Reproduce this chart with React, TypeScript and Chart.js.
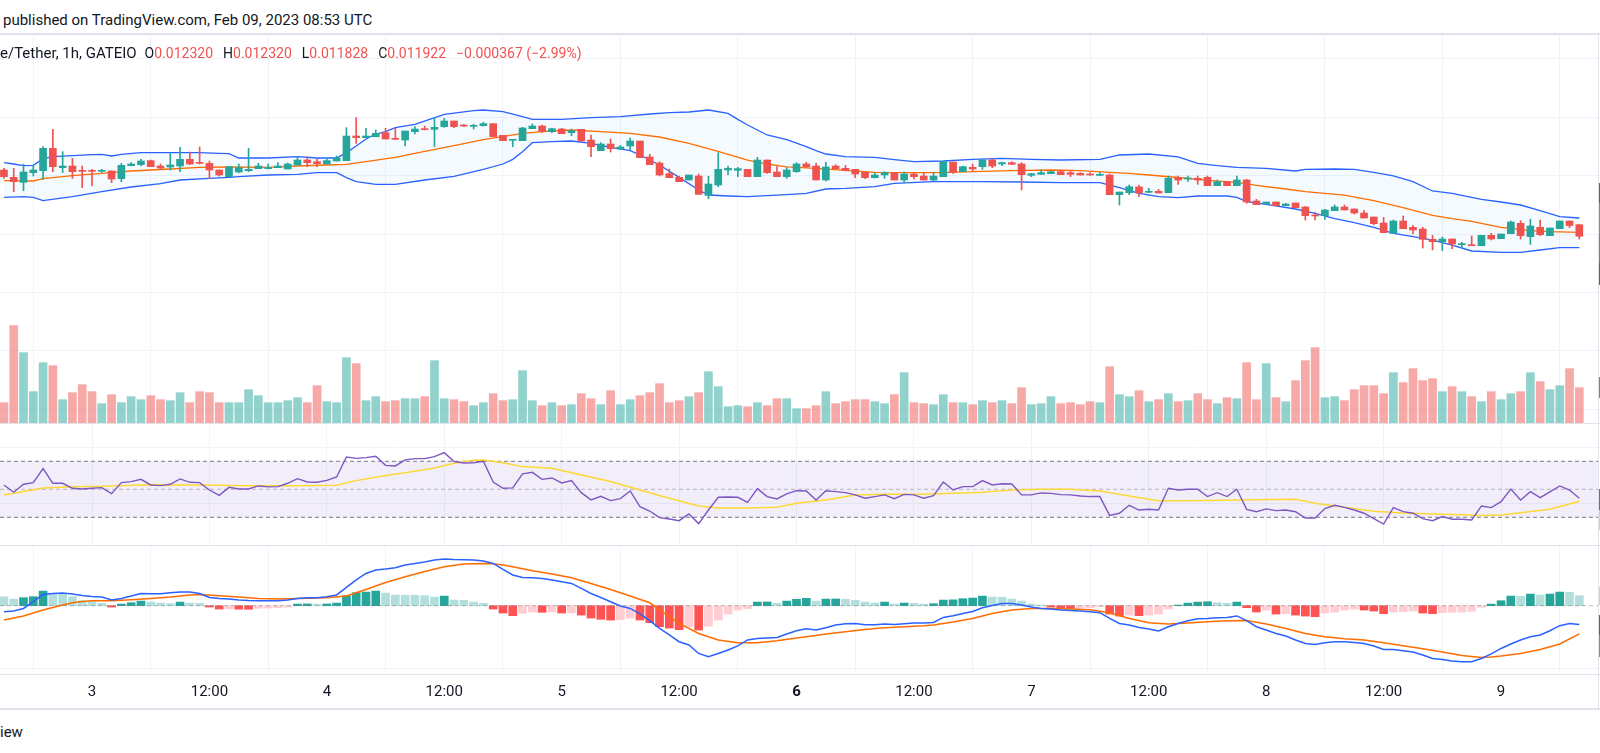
import React, { useEffect, useRef } from "react";
import { Chart, registerables } from "chart.js";

Chart.register(...registerables);

// ---------- data (1h candles, Feb 2 15:00 -> Feb 9 08:00) ----------
const opens = [
  0.014192, 0.013941, 0.013769, 0.014101, 0.014169, 0.014934, 0.014272, 0.014329, 0.014169, 0.014169,
  0.014146, 0.014158, 0.013895, 0.01434, 0.014375, 0.014512, 0.014329, 0.014295, 0.014329, 0.014557,
  0.014443, 0.01442, 0.014192, 0.013964, 0.014123, 0.014169, 0.014238, 0.014238, 0.014272, 0.014226,
  0.014363, 0.014534, 0.014477, 0.014397, 0.0145, 0.014512, 0.015356, 0.015299, 0.015334, 0.015471,
  0.015276, 0.015219, 0.015505, 0.015596, 0.015585, 0.015676, 0.01587, 0.015722, 0.015688, 0.01571,
  0.015779, 0.015379, 0.015208, 0.015197, 0.015608, 0.015699, 0.015505, 0.015596, 0.015471, 0.015585,
  0.015219, 0.014854, 0.015082, 0.014911, 0.015014, 0.015185, 0.014637, 0.014432, 0.014066, 0.013941,
  0.013849, 0.013986, 0.013324, 0.013678, 0.014192, 0.01418, 0.014215, 0.013964, 0.014534, 0.014123,
  0.013964, 0.014135, 0.014398, 0.014329, 0.013849, 0.014329, 0.014249, 0.014215, 0.014112, 0.013929,
  0.014021, 0.014101, 0.013849, 0.014055, 0.013986, 0.013849, 0.013964, 0.014466, 0.014135, 0.014283,
  0.014306, 0.014534, 0.014398, 0.014443, 0.014398, 0.014009, 0.014044, 0.014066, 0.014135, 0.014101,
  0.014078, 0.014044, 0.014009, 0.014021, 0.013347, 0.013416, 0.01361, 0.013427, 0.013461, 0.013416,
  0.013929, 0.013884, 0.013907, 0.013941, 0.013655, 0.013792, 0.013655, 0.01385, 0.01313, 0.013039,
  0.013096, 0.01297, 0.013062, 0.012925, 0.012639, 0.012628, 0.012799, 0.012925, 0.012856, 0.012719,
  0.012582, 0.012377, 0.012023, 0.012445, 0.012228, 0.012171, 0.011817, 0.011737, 0.011829, 0.011635,
  0.011623, 0.0116, 0.011954, 0.01184, 0.012011, 0.012365, 0.011909, 0.012228, 0.011943, 0.012183,
  0.012445, 0.01232,
];
const highs = [
  0.014249, 0.014249, 0.014397, 0.014363, 0.014991, 0.015585, 0.01482, 0.014592, 0.014329, 0.014215,
  0.014215, 0.014158, 0.01442, 0.014443, 0.014557, 0.014534, 0.014397, 0.014763, 0.014968, 0.014808,
  0.01498, 0.0145, 0.014192, 0.014306, 0.014397, 0.014934, 0.01442, 0.014397, 0.014443, 0.014432,
  0.014649, 0.014649, 0.014569, 0.014592, 0.014671, 0.015642, 0.015984, 0.015619, 0.015562, 0.015619,
  0.015619, 0.015528, 0.015676, 0.015699, 0.015984, 0.015962, 0.01587, 0.015745, 0.015756, 0.015825,
  0.015779, 0.015379, 0.015231, 0.015653, 0.015768, 0.015733, 0.015631, 0.015619, 0.015596, 0.015585,
  0.015391, 0.015128, 0.015254, 0.015037, 0.015288, 0.015185, 0.014729, 0.014477, 0.014226, 0.013986,
  0.014021, 0.014055, 0.013975, 0.014786, 0.014329, 0.014283, 0.014215, 0.014626, 0.014534, 0.014306,
  0.014272, 0.014443, 0.014455, 0.01442, 0.014455, 0.014375, 0.014352, 0.014215, 0.014112, 0.014078,
  0.014135, 0.014101, 0.014124, 0.014112, 0.014101, 0.014112, 0.014477, 0.014466, 0.014329, 0.014398,
  0.014557, 0.014557, 0.014466, 0.014477, 0.014443, 0.014078, 0.014192, 0.014146, 0.014169, 0.014169,
  0.014101, 0.014101, 0.014101, 0.014055, 0.013438, 0.013678, 0.013678, 0.013564, 0.01353, 0.013986,
  0.013987, 0.013987, 0.013987, 0.013987, 0.01385, 0.013792, 0.013987, 0.013872, 0.013187, 0.013096,
  0.013096, 0.01305, 0.013062, 0.012947, 0.012742, 0.012845, 0.012993, 0.012993, 0.012856, 0.012811,
  0.012582, 0.012571, 0.012479, 0.012616, 0.012297, 0.012228, 0.011954, 0.011897, 0.011829, 0.011715,
  0.011931, 0.011954, 0.012023, 0.012, 0.012445, 0.012457, 0.012502, 0.012479, 0.012205, 0.012445,
  0.012445, 0.01232,
];
const lows = [
  0.013906, 0.01345, 0.013484, 0.013986, 0.013872, 0.014135, 0.014101, 0.013906, 0.013587, 0.013655,
  0.014112, 0.013758, 0.013792, 0.014329, 0.014329, 0.014306, 0.014215, 0.014192, 0.014135, 0.014375,
  0.014397, 0.013895, 0.013986, 0.013964, 0.014101, 0.014135, 0.014238, 0.014226, 0.014272, 0.014226,
  0.014363, 0.014306, 0.014306, 0.014397, 0.0145, 0.014512, 0.015105, 0.015299, 0.015334, 0.015254,
  0.015242, 0.015014, 0.015425, 0.015562, 0.014991, 0.015653, 0.015642, 0.015676, 0.015596, 0.015699,
  0.015334, 0.015197, 0.014991, 0.015197, 0.015608, 0.015482, 0.015471, 0.015436, 0.015368, 0.015162,
  0.014649, 0.014854, 0.014808, 0.0149, 0.014877, 0.014614, 0.014375, 0.013986, 0.013929, 0.013792,
  0.013849, 0.013359, 0.01321, 0.013621, 0.014032, 0.013964, 0.013964, 0.013964, 0.014078, 0.013964,
  0.013906, 0.014112, 0.014283, 0.013849, 0.013815, 0.014238, 0.014158, 0.013929, 0.013895, 0.013918,
  0.013907, 0.013849, 0.01377, 0.013884, 0.013849, 0.013827, 0.013964, 0.014078, 0.014135, 0.014169,
  0.014215, 0.014272, 0.01434, 0.014386, 0.013507, 0.013964, 0.014044, 0.014066, 0.014032, 0.013964,
  0.014021, 0.014009, 0.014009, 0.013347, 0.012993, 0.013347, 0.013279, 0.013416, 0.013404, 0.013416,
  0.013701, 0.013804, 0.013701, 0.013655, 0.013655, 0.013655, 0.013655, 0.01305, 0.013005, 0.013016,
  0.01297, 0.01297, 0.012902, 0.012479, 0.012479, 0.012502, 0.012799, 0.012822, 0.012685, 0.012548,
  0.01232, 0.012046, 0.012023, 0.012183, 0.012, 0.01152, 0.011452, 0.011429, 0.011498, 0.011532,
  0.0116, 0.0116, 0.011794, 0.01184, 0.012011, 0.011829, 0.011646, 0.011943, 0.011943, 0.012183,
  0.012217, 0.011828,
];
const closes = [
  0.013964, 0.013792, 0.014123, 0.014192, 0.014934, 0.014306, 0.014329, 0.014135, 0.014146, 0.014146,
  0.014169, 0.013884, 0.014352, 0.014397, 0.0145, 0.014306, 0.01426, 0.014363, 0.014557, 0.014397,
  0.01442, 0.014192, 0.014021, 0.014306, 0.014272, 0.014215, 0.014329, 0.014283, 0.014329, 0.014397,
  0.014534, 0.014443, 0.014409, 0.014512, 0.014603, 0.015356, 0.015299, 0.015356, 0.015448, 0.015254,
  0.015242, 0.015528, 0.015596, 0.015573, 0.015653, 0.01587, 0.015676, 0.015699, 0.01571, 0.015779,
  0.015334, 0.015197, 0.015231, 0.015631, 0.015699, 0.015505, 0.015608, 0.015436, 0.015539, 0.015185,
  0.014991, 0.015082, 0.014923, 0.01498, 0.015185, 0.014614, 0.014375, 0.014021, 0.013929, 0.013792,
  0.014021, 0.013359, 0.013712, 0.014215, 0.014249, 0.014238, 0.013964, 0.014534, 0.014101, 0.013964,
  0.014192, 0.014398, 0.014306, 0.013849, 0.014295, 0.014238, 0.014169, 0.014055, 0.013929, 0.014021,
  0.014101, 0.013849, 0.014055, 0.013964, 0.013849, 0.013986, 0.014477, 0.014112, 0.014306, 0.014226,
  0.014534, 0.014329, 0.014443, 0.014386, 0.014032, 0.014066, 0.014101, 0.014135, 0.014032, 0.014044,
  0.014021, 0.014021, 0.014032, 0.013347, 0.013438, 0.013621, 0.013404, 0.01345, 0.013404, 0.013907,
  0.01385, 0.013907, 0.01385, 0.013655, 0.013792, 0.013655, 0.01385, 0.013096, 0.013005, 0.013096,
  0.01297, 0.013027, 0.012902, 0.012628, 0.012616, 0.012822, 0.012925, 0.012822, 0.012719, 0.012548,
  0.012354, 0.012046, 0.012445, 0.012183, 0.012137, 0.011817, 0.011737, 0.011829, 0.011657, 0.011657,
  0.0116, 0.011954, 0.011829, 0.012, 0.012411, 0.011943, 0.012274, 0.011977, 0.012205, 0.012445,
  0.012289, 0.011922,
];
// volume (thousands)
const volumes = [
  61, 292, 211, 94, 181, 172, 70, 91, 115, 94, 58, 85, 61, 79, 70, 82, 70, 67, 91, 61,
  94, 91, 61, 61, 61, 100, 82, 61, 61, 67, 76, 61, 112, 64, 61, 196, 178, 67, 79, 64,
  67, 73, 73, 79, 187, 73, 70, 64, 52, 61, 88, 67, 70, 157, 67, 52, 61, 52, 55, 88,
  73, 55, 97, 55, 70, 82, 91, 118, 61, 67, 79, 91, 154, 109, 49, 52, 49, 61, 52, 73,
  73, 43, 43, 52, 94, 58, 64, 70, 70, 64, 58, 85, 151, 61, 58, 55, 85, 61, 61, 55,
  67, 61, 67, 58, 106, 55, 58, 79, 58, 61, 55, 64, 61, 169, 85, 79, 97, 64, 70, 88,
  64, 67, 88, 70, 58, 76, 73, 181, 70, 178, 76, 64, 127, 187, 226, 76, 79, 67, 100, 112,
  112, 88, 151, 121, 163, 127, 133, 94, 109, 94, 79, 64, 94, 70, 88, 94, 151, 124, 100, 112,
  163, 106,
];
// Bollinger Bands (20, 2) read at [candle index, value]
const bbUpper: [number, number][] = [
  [0, 0.014443], [1, 0.014397], [2, 0.01434], [3, 0.014352], [4, 0.01458], [5, 0.014649], [7, 0.014683],
  [9, 0.014717], [10, 0.014729], [11, 0.014671], [12, 0.014729], [14, 0.014786], [17, 0.014786],
  [20, 0.014786], [22, 0.014763], [23, 0.014751], [24, 0.014603], [27, 0.014603], [30, 0.014649],
  [32, 0.014603], [34, 0.014603], [35, 0.014786], [36, 0.015014], [37, 0.015254], [38, 0.015425],
  [39, 0.015505], [40, 0.015642], [42, 0.015756], [45, 0.016099], [48, 0.016224], [49, 0.016247],
  [51, 0.01619], [53, 0.016019], [54, 0.015927], [57, 0.015927], [60, 0.015984], [63, 0.016019],
  [66, 0.01611], [68, 0.016156], [70, 0.016179], [72, 0.016247], [74, 0.016133], [75, 0.015927],
  [76, 0.015733], [78, 0.015391], [80, 0.015235], [82, 0.014991], [83, 0.014854], [84, 0.01474],
  [86, 0.014649], [89, 0.014626], [91, 0.014546], [93, 0.014477], [96, 0.0145], [99, 0.014557],
  [102, 0.014592], [105, 0.014557], [108, 0.014535], [112, 0.014557], [114, 0.014706], [117, 0.01474],
  [120, 0.01464], [122, 0.01442], [124, 0.01434], [126, 0.014283], [129, 0.014249], [132, 0.014158],
  [133, 0.014215], [136, 0.014226], [138, 0.014215], [140, 0.014112], [142, 0.013987], [144, 0.013792],
  [146, 0.013473], [148, 0.013393], [151, 0.013187], [153, 0.013096], [155, 0.012993], [157, 0.012799],
  [159, 0.012594], [161, 0.012548],
];
const bbBasis: [number, number][] = [
  [0, 0.013827], [3, 0.013815], [4, 0.013895], [7, 0.013998], [10, 0.014078], [13, 0.014158],
  [17, 0.014226], [20, 0.014283], [23, 0.014295], [27, 0.014283], [30, 0.014329], [33, 0.014363],
  [35, 0.014386], [37, 0.014477], [40, 0.014626], [43, 0.014831], [46, 0.015025], [49, 0.015231],
  [53, 0.015448], [55, 0.015505], [58, 0.015562], [61, 0.015505], [64, 0.015448], [67, 0.015322],
  [70, 0.015105], [73, 0.014831], [76, 0.014534], [78, 0.014397], [80, 0.0143], [83, 0.014249],
  [86, 0.014181], [89, 0.014112], [93, 0.014101], [96, 0.014101], [99, 0.014135], [103, 0.014169],
  [107, 0.014192], [110, 0.014169], [113, 0.014112], [115, 0.014078], [117, 0.014021], [120, 0.013935],
  [123, 0.013838], [126, 0.01377], [128, 0.013667], [131, 0.013541], [133, 0.01345], [137, 0.013335],
  [140, 0.013142], [143, 0.012902], [146, 0.012639], [148, 0.012525], [150, 0.012434], [153, 0.012228],
  [156, 0.012114], [158, 0.01208], [161, 0.012057],
];
const bbLower: [number, number][] = [
  [0, 0.013256], [2, 0.013279], [3, 0.013256], [4, 0.013142], [7, 0.013279], [10, 0.01345],
  [13, 0.01361], [16, 0.013724], [18, 0.013849], [21, 0.013906], [23, 0.013941], [24, 0.013964],
  [27, 0.014021], [30, 0.014044], [32, 0.014101], [34, 0.014101], [35, 0.013929], [36, 0.013792],
  [38, 0.013701], [40, 0.013701], [43, 0.013849], [46, 0.013975], [49, 0.014215], [51, 0.014397],
  [52, 0.014557], [53, 0.01482], [54, 0.015128], [56, 0.015162], [58, 0.015185], [60, 0.015105],
  [62, 0.014968], [64, 0.014854], [65, 0.014706], [67, 0.014363], [69, 0.013941], [71, 0.013507],
  [72, 0.013336], [74, 0.013301], [76, 0.013279], [78, 0.013313], [80, 0.01335], [82, 0.013393],
  [84, 0.013541], [86, 0.013564], [89, 0.013621], [91, 0.013735], [95, 0.013792], [100, 0.013792],
  [104, 0.013781], [108, 0.013758], [112, 0.013758], [114, 0.013587], [116, 0.013393], [118, 0.013279],
  [120, 0.013245], [122, 0.013301], [125, 0.013301], [126, 0.013256], [127, 0.013107], [129, 0.013016],
  [132, 0.012856], [134, 0.012708], [136, 0.012525], [138, 0.012388], [140, 0.012228], [142, 0.012023],
  [144, 0.011909], [146, 0.011794], [148, 0.011623], [150, 0.011418], [153, 0.011372], [155, 0.011372],
  [157, 0.011452], [159, 0.011532], [161, 0.011532],
];
// RSI (14)
const rsiValues = [
  53.1, 47.9, 53.6, 54.8, 64.8, 54.3, 54.3, 50.7, 50.2, 50.7, 51.2, 46.9, 54.8, 55.5, 57.1, 53.1,
  52.6, 53.6, 57.4, 55.0, 54.8, 49.5, 45.7, 51.4, 50.2, 50.2, 52.4, 51.7, 51.9, 54.3, 57.6, 55.2,
  55.0, 56.4, 58.8, 73.1, 72.1, 72.6, 73.6, 67.1, 66.7, 71.0, 71.9, 71.9, 73.3, 76.2, 69.8, 68.8,
  69.0, 70.0, 55.2, 50.7, 51.0, 61.0, 62.1, 57.1, 58.1, 54.5, 56.2, 47.6, 42.4, 45.0, 41.9, 43.3,
  48.8, 37.6, 34.5, 29.8, 28.8, 27.6, 32.4, 25.5, 35.2, 44.3, 44.5, 44.3, 40.7, 50.5, 44.8, 43.1,
  46.7, 49.0, 48.8, 42.4, 49.0, 48.3, 47.6, 46.0, 43.6, 44.8, 46.0, 43.3, 46.4, 46.0, 43.6, 45.5,
  55.2, 49.5, 51.9, 51.9, 56.2, 53.1, 54.0, 53.8, 46.0, 46.0, 47.4, 47.1, 46.2, 46.0, 45.2, 44.8,
  44.8, 31.4, 32.9, 38.6, 35.2, 35.7, 35.2, 50.7, 49.5, 50.0, 50.0, 44.8, 47.6, 44.8, 50.0, 35.7,
  34.0, 36.0, 34.8, 35.2, 34.0, 29.5, 29.5, 36.2, 38.6, 37.1, 35.2, 32.9, 29.0, 25.2, 36.9, 34.0,
  32.9, 29.0, 27.6, 30.5, 28.6, 28.6, 28.1, 38.1, 36.9, 41.2, 50.2, 42.4, 48.3, 44.0, 48.1, 52.4,
  49.5, 43.6,
];
const rsiMa: [number, number][] = [
  [0, 46.0], [4, 51.0], [7, 51.9], [10, 52.1], [15, 53.3], [20, 53.1], [25, 52.6], [30, 52.6],
  [34, 52.9], [36, 56.2], [39, 59.8], [41, 61.9], [44, 65.2], [46, 68.6], [48, 70.7], [49, 71.0],
  [51, 69.0], [53, 66.2], [56, 65.0], [59, 60.2], [62, 55.5], [65, 49.5], [68, 43.6], [71, 38.1],
  [73, 36.7], [76, 36.7], [79, 37.1], [81, 40.0], [84, 42.4], [87, 46.0], [90, 46.4], [94, 46.4],
  [97, 47.1], [100, 47.9], [103, 49.5], [106, 50.0], [109, 50.0], [112, 48.8], [115, 45.2],
  [118, 41.9], [121, 41.9], [126, 42.4], [132, 42.9], [134, 40.0], [137, 37.1], [140, 34.3],
  [143, 33.1], [146, 32.4], [149, 31.9], [151, 31.2], [153, 31.7], [155, 33.3], [158, 35.7],
  [161, 41.4],
];
const rsiUpperBand = 70;
const rsiMiddleBand = 50;
const rsiLowerBand = 30;
// MACD (12, 26, 9)
const macdValues = [
  -0.000048, -0.000042, -0.000022, 0.000032, 0.00009, 0.000098, 0.000102, 0.000094, 0.000082, 0.000074,
  0.00007, 0.000046, 0.000058, 0.000078, 0.000098, 0.000096, 0.000096, 0.000104, 0.00011, 0.00011,
  0.000098, 0.000066, 0.000058, 0.000054, 0.000046, 0.000042, 0.00004, 0.00004, 0.00004, 0.000046,
  0.000058, 0.000064, 0.000064, 0.000072, 0.000086, 0.000146, 0.000206, 0.000258, 0.000286, 0.000294,
  0.000304, 0.000326, 0.000338, 0.00035, 0.000366, 0.000374, 0.00037, 0.000368, 0.000366, 0.000358,
  0.000338, 0.00029, 0.000246, 0.000226, 0.000224, 0.000218, 0.000206, 0.000192, 0.000178, 0.000138,
  0.000098, 0.000066, 0.000032, -0.000002, -0.000022, -0.000066, -0.00012, -0.000182, -0.000234, -0.000288,
  -0.000314, -0.000382, -0.000408, -0.000382, -0.000354, -0.000322, -0.000274, -0.000262, -0.000258, -0.000254,
  -0.000226, -0.0002, -0.000184, -0.000194, -0.000176, -0.000154, -0.000144, -0.000142, -0.000152, -0.000152,
  -0.000146, -0.00015, -0.000144, -0.000138, -0.000138, -0.000134, -0.000094, -0.00008, -0.000062, -0.000046,
  -0.000016, 0.000002, 0.000018, 0.000018, 0.000006, -0.00001, -0.000022, -0.000026, -0.000034, -0.000038,
  -0.000042, -0.000048, -0.000056, -0.000102, -0.000142, -0.000154, -0.000174, -0.000186, -0.000202, -0.000168,
  -0.000142, -0.00012, -0.000104, -0.000102, -0.000096, -0.000094, -0.000082, -0.00012, -0.000168, -0.000194,
  -0.000222, -0.000242, -0.000274, -0.000302, -0.00031, -0.000296, -0.000288, -0.000288, -0.000294, -0.000302,
  -0.000322, -0.00035, -0.00035, -0.00036, -0.00037, -0.000394, -0.000422, -0.00043, -0.000442, -0.000448,
  -0.000448, -0.000422, -0.000386, -0.000342, -0.000306, -0.000274, -0.000248, -0.000234, -0.0002, -0.00016,
  -0.000142, -0.00015,
];
const signalPoints: [number, number][] = [
  [0, -0.000114], [2, -0.000082], [4, -0.000034], [5, -0.000014], [6, 0.000006], [7, 0.000024],
  [8, 0.000034], [9, 0.00004], [11, 0.00004], [13, 0.000048], [15, 0.000058], [17, 0.00007],
  [19, 0.000086], [20, 0.00009], [22, 0.00008], [24, 0.00007], [26, 0.000058], [28, 0.000054],
  [30, 0.000058], [33, 0.000064], [35, 0.000078], [37, 0.00013], [39, 0.000186], [41, 0.000232],
  [43, 0.000274], [45, 0.000312], [47, 0.000334], [49, 0.000338], [50, 0.000336], [51, 0.000326],
  [52, 0.000312], [54, 0.00028], [56, 0.000254], [58, 0.000224], [60, 0.000178], [62, 0.00013],
  [64, 0.000078], [66, 0.000024], [67, -0.000034], [69, -0.000142], [71, -0.000222], [73, -0.000274],
  [75, -0.000296], [77, -0.000296], [79, -0.00028], [81, -0.000258], [82, -0.000248], [84, -0.000226],
  [86, -0.000208], [88, -0.00019], [90, -0.000176], [92, -0.000168], [94, -0.00016], [95, -0.000154],
  [97, -0.00013], [99, -0.000102], [101, -0.000062], [103, -0.000034], [105, -0.000022], [107, -0.000022],
  [109, -0.000026], [111, -0.000032], [113, -0.000056], [115, -0.000102], [117, -0.000136], [119, -0.000146],
  [121, -0.000138], [123, -0.000128], [125, -0.00012], [127, -0.000118], [129, -0.000146], [131, -0.000182],
  [133, -0.000222], [135, -0.000248], [137, -0.000264], [139, -0.000274], [141, -0.000296], [143, -0.00032],
  [145, -0.000344], [147, -0.00037], [149, -0.000398], [151, -0.000414], [152, -0.00041], [153, -0.000402],
  [155, -0.000382], [157, -0.00035], [159, -0.000306], [161, -0.000226],
];
const histValues = [
  0.000072, 0.000053, 0.000064, 0.000072, 0.000117, 0.000099, 0.000093, 0.000072, 0.00004, 0.000032,
  0.000019, -0.000011, 0.000013, 0.000024, 0.000037, 0.000029, 0.000021, 0.000016, 0.000029, 0.000021,
  0.000019, -0.000011, -0.000027, -0.000026, -0.000028, -0.000029, -0.000021, -0.000019, -0.000016, -0.000011,
  0.000013, 0.000014, 0.000013, 0.000014, 0.000021, 0.00008, 0.000104, 0.000109, 0.000117, 0.000101,
  0.000085, 0.000084, 0.000083, 0.00008, 0.000069, 0.000077, 0.000045, 0.000043, 0.000029, 0.000019,
  -0.000027, -0.000059, -0.00008, -0.000061, -0.000051, -0.000053, -0.00005, -0.000059, -0.000057, -0.000075,
  -0.000099, -0.000109, -0.000115, -0.000113, -0.000099, -0.000115, -0.000136, -0.000168, -0.000179, -0.000192,
  -0.000168, -0.000195, -0.000165, -0.000115, -0.000067, -0.000035, -0.000024, 0.000029, 0.00003, 0.000019,
  0.000037, 0.000051, 0.000059, 0.000037, 0.000053, 0.000054, 0.000051, 0.000043, 0.000029, 0.000021,
  0.000029, 0.000013, 0.000021, 0.000019, 0.000013, 0.000016, 0.000045, 0.000047, 0.000056, 0.000061,
  0.000077, 0.000069, 0.000067, 0.000053, 0.000037, 0.000013, 0.000005, -0.000011, -0.000019, -0.000021,
  -0.000019, -0.000016, -0.000008, -0.000067, -0.000083, -0.000075, -0.00008, -0.000075, -0.000067, -0.000027,
  0.000005, 0.000021, 0.000029, 0.000032, 0.000024, 0.000019, 0.000029, -0.000016, -0.000051, -0.000035,
  -0.000067, -0.000064, -0.000075, -0.000083, -0.000088, -0.000059, -0.000051, -0.000035, -0.000027, -0.000035,
  -0.000043, -0.000064, -0.000051, -0.000048, -0.000043, -0.000059, -0.000064, -0.000056, -0.000053, -0.000051,
  -0.000045, -0.000013, 0.000013, 0.00004, 0.000077, 0.000075, 0.000093, 0.000085, 0.000093, 0.000109,
  0.000107, 0.00008,
];
// time axis
const timeTickIndex = [9, 21, 33, 45, 57, 69, 81, 93, 105, 117, 129, 141, 153];
const timeTickLabels = ["3", "12:00", "4", "12:00", "5", "12:00", "6", "12:00", "7", "12:00", "8", "12:00", "9"];
const boldTickLabel = "6";
const priceGridLevels = [0.006, 0.008, 0.01, 0.012, 0.014, 0.016, 0.018];
const rsiGridLevels = [40, 80];
const macdGridLevels = [-0.0005];
const symbolTitle = "e/Tether, 1h, GATEIO";
const publishedText = "published on TradingView.com, Feb 09, 2023 08:53 UTC";

// ---------- styling ----------
const FONT = "Roboto, 'Noto Sans', sans-serif";
const GRID = "#f0f3fa";
const SEP = "#e0e3eb";
const UP = "#26a69a";
const DOWN = "#ef5350";
const VOL_UP = "rgba(38,166,154,0.5)";
const VOL_DOWN = "rgba(239,83,80,0.5)";
const BLUE = "#2962ff";
const ORANGE = "#ff6d00";
const TEXT = "#131722";

const X_MIN = -0.4027;
const X_MAX = 162.91;

const PLOT_W = 1598;
const MAIN_TOP = 33, MAIN_H = 390;
const RSI_TOP = 424, RSI_H = 121;
const MACD_TOP = 546, MACD_H = 162;

function xAxis(withLabels: boolean): any {
  return {
    type: "linear",
    min: X_MIN,
    max: X_MAX,
    offset: false,
    afterBuildTicks: (s: any) => {
      s.ticks = timeTickIndex.map((v) => ({ value: v }));
    },
    afterFit: (s: any) => {
      s.height = withLabels ? 34 : 0;
    },
    grid: { color: GRID, lineWidth: 1, drawTicks: false },
    border: { display: false },
    ticks: withLabels
      ? {
          display: true,
          autoSkip: false,
          maxRotation: 0,
          padding: 9,
          color: TEXT,
          font: (ctx: any) => ({
            family: FONT,
            size: 15,
            weight: ctx.tick && ctx.tick.label === boldTickLabel ? "bold" : "normal",
          }),
          callback: (v: number) => {
            const k = timeTickIndex.indexOf(v);
            return k >= 0 ? timeTickLabels[k] : "";
          },
        }
      : { display: false },
  };
}

function yGridAxis(min: number, max: number, levels: number[]): any {
  return {
    type: "linear",
    position: "right",
    min,
    max,
    afterBuildTicks: (s: any) => {
      s.ticks = levels.map((v) => ({ value: v }));
    },
    afterFit: (s: any) => {
      s.width = 0;
    },
    grid: { color: GRID, lineWidth: 1, drawTicks: false },
    border: { display: false },
    ticks: { display: false },
  };
}

const baseOptions: any = {
  responsive: false,
  maintainAspectRatio: false,
  animation: false,
  events: [],
  layout: { padding: 0 },
  plugins: { legend: { display: false }, tooltip: { enabled: false } },
};

const pts = (arr: [number, number][]) => arr.map(([x, y]) => ({ x, y }));

export default function App() {
  const mainRef = useRef<HTMLCanvasElement>(null);
  const rsiRef = useRef<HTMLCanvasElement>(null);
  const macdRef = useRef<HTMLCanvasElement>(null);

  useEffect(() => {
    const idx = opens.map((_, i) => i);
    const up = idx.map((i) => closes[i] >= opens[i]);
    const candleColors = idx.map((i) => (up[i] ? UP : DOWN));

    const main = new Chart(mainRef.current as HTMLCanvasElement, {
      type: "bar",
      data: {
        datasets: [
          {
            type: "bar",
            label: "Volume",
            yAxisID: "yVol",
            data: volumes.map((v, i) => ({ x: i, y: v })),
            backgroundColor: idx.map((i) => (up[i] ? VOL_UP : VOL_DOWN)),
            barThickness: 8,
            grouped: false,
            order: 10,
          } as any,
          {
            type: "line",
            label: "BB Upper",
            yAxisID: "y",
            data: pts(bbUpper),
            borderColor: BLUE,
            borderWidth: 1.3,
            pointRadius: 0,
            fill: "+2",
            backgroundColor: "rgba(33,150,243,0.05)",
            order: 4,
          } as any,
          {
            type: "line",
            label: "BB Basis",
            yAxisID: "y",
            data: pts(bbBasis),
            borderColor: ORANGE,
            borderWidth: 1.3,
            pointRadius: 0,
            fill: false,
            order: 3,
          } as any,
          {
            type: "line",
            label: "BB Lower",
            yAxisID: "y",
            data: pts(bbLower),
            borderColor: BLUE,
            borderWidth: 1.3,
            pointRadius: 0,
            fill: false,
            order: 3,
          } as any,
          {
            type: "bar",
            label: "Wicks",
            yAxisID: "y",
            data: idx.map((i) => ({ x: i, y: [lows[i], highs[i]] })),
            backgroundColor: candleColors,
            barThickness: 1,
            grouped: false,
            order: 1,
          } as any,
          {
            type: "bar",
            label: "Bodies",
            yAxisID: "y",
            data: idx.map((i) => ({ x: i, y: [opens[i], closes[i]] })),
            backgroundColor: candleColors,
            barThickness: 7,
            minBarLength: 1,
            grouped: false,
            order: 0,
          } as any,
        ],
      },
      options: {
        ...baseOptions,
        scales: {
          x: xAxis(false),
          y: yGridAxis(0.005527, 0.018884, priceGridLevels),
          yVol: { type: "linear", display: false, min: 0, max: 1170 },
        },
      },
    });

    const rsi = new Chart(rsiRef.current as HTMLCanvasElement, {
      type: "line",
      data: {
        datasets: [
          {
            label: "Upper",
            data: [{ x: X_MIN, y: rsiUpperBand }, { x: X_MAX, y: rsiUpperBand }],
            borderColor: "#787b86",
            borderWidth: 1,
            borderDash: [4, 3],
            pointRadius: 0,
            fill: "+1",
            backgroundColor: "rgba(126,87,194,0.1)",
            order: 5,
          },
          {
            label: "Lower",
            data: [{ x: X_MIN, y: rsiLowerBand }, { x: X_MAX, y: rsiLowerBand }],
            borderColor: "#787b86",
            borderWidth: 1,
            borderDash: [4, 3],
            pointRadius: 0,
            fill: false,
            order: 5,
          },
          {
            label: "Middle",
            data: [{ x: X_MIN, y: rsiMiddleBand }, { x: X_MAX, y: rsiMiddleBand }],
            borderColor: "rgba(120,123,134,0.5)",
            borderWidth: 1,
            borderDash: [4, 3],
            pointRadius: 0,
            fill: false,
            order: 5,
          },
          {
            label: "RSI MA",
            data: pts(rsiMa),
            borderColor: "#fdd835",
            borderWidth: 1.5,
            pointRadius: 0,
            fill: false,
            order: 2,
          },
          {
            label: "RSI",
            data: rsiValues.map((v, i) => ({ x: i, y: v })),
            borderColor: "#7e57c2",
            borderWidth: 1.4,
            pointRadius: 0,
            fill: false,
            order: 1,
          },
        ] as any,
      },
      options: {
        ...baseOptions,
        scales: {
          x: xAxis(false),
          y: yGridAxis(10.21, 96.64, rsiGridLevels),
        },
      },
    });

    const histColors = histValues.map((h, i) => {
      const prev = i > 0 ? histValues[i - 1] : h + (h >= 0 ? 1 : -1);
      if (h >= 0) return h >= prev ? "#26a69a" : "#b2dfdb";
      return h < prev ? "#ff5252" : "#ffcdd2";
    });

    const macd = new Chart(macdRef.current as HTMLCanvasElement, {
      type: "bar",
      data: {
        datasets: [
          {
            type: "bar",
            label: "Histogram",
            data: histValues.map((v, i) => ({ x: i, y: v })),
            backgroundColor: histColors,
            barThickness: 8,
            grouped: false,
            order: 5,
          } as any,
          {
            type: "line",
            label: "Zero",
            data: [{ x: X_MIN, y: 0 }, { x: X_MAX, y: 0 }],
            borderColor: "rgba(120,123,134,0.5)",
            borderWidth: 1,
            borderDash: [4, 3],
            pointRadius: 0,
            fill: false,
            order: 4,
          } as any,
          {
            type: "line",
            label: "Signal",
            data: pts(signalPoints),
            borderColor: ORANGE,
            borderWidth: 1.5,
            pointRadius: 0,
            fill: false,
            order: 2,
          } as any,
          {
            type: "line",
            label: "MACD",
            data: macdValues.map((v, i) => ({ x: i, y: v })),
            borderColor: BLUE,
            borderWidth: 1.5,
            pointRadius: 0,
            fill: false,
            order: 1,
          } as any,
        ],
      },
      options: {
        ...baseOptions,
        scales: {
          x: xAxis(true),
          y: yGridAxis(-0.0005464, 0.0004776, macdGridLevels),
        },
      },
    });

    return () => {
      main.destroy();
      rsi.destroy();
      macd.destroy();
    };
  }, []);

  const last = opens.length - 1;
  const change = closes[last] - closes[last - 1];
  const pct = (change / closes[last - 1]) * 100;
  const fmt = (v: number) => v.toFixed(6);
  const signed = (s: string) => s.replace("-", "\u2212");
  const red = DOWN;

  const line = (top: number, height: number, color = SEP, left = 0, width = 1600): React.CSSProperties => ({
    position: "absolute",
    left,
    top,
    width,
    height,
    background: color,
  });

  const legendItems: [string, string][] = [
    ["O", fmt(opens[last])],
    ["H", fmt(highs[last])],
    ["L", fmt(lows[last])],
    ["C", fmt(closes[last])],
  ];

  const slivers: [number, number, string][] = [
    [183, 20, BLUE],
    [203, 31, ORANGE],
    [234, 29, DOWN],
    [263, 22, BLUE],
    [377, 21, DOWN],
    [489, 21, "#7e57c2"],
    [510, 20, "#fdd835"],
    [587, 18, "#b2dfdb"],
    [615, 20, BLUE],
    [635, 22, ORANGE],
  ];

  return (
    <div
      style={{
        position: "fixed",
        left: 0,
        top: 0,
        width: 1600,
        height: 753,
        background: "#ffffff",
        overflow: "hidden",
        fontFamily: FONT,
        color: TEXT,
      }}
    >
      <div style={{ position: "absolute", left: 3, top: 11, fontSize: 15, lineHeight: "18px", whiteSpace: "nowrap" }}>
        {publishedText}
      </div>
      <canvas
        ref={mainRef}
        width={PLOT_W}
        height={MAIN_H}
        style={{ position: "absolute", left: 0, top: MAIN_TOP, width: PLOT_W, height: MAIN_H }}
      />
      <canvas
        ref={rsiRef}
        width={PLOT_W}
        height={RSI_H}
        style={{ position: "absolute", left: 0, top: RSI_TOP, width: PLOT_W, height: RSI_H }}
      />
      <canvas
        ref={macdRef}
        width={PLOT_W}
        height={MACD_H}
        style={{ position: "absolute", left: 0, top: MACD_TOP, width: PLOT_W, height: MACD_H }}
      />
      <div style={line(33, 2)} />
      <div style={line(423, 1)} />
      <div style={line(545, 1)} />
      <div style={line(674, 1)} />
      <div style={line(708, 2)} />
      <div style={line(33, 677, SEP, 1598, 1)} />
      {slivers.map(([t, h, c], k) => (
        <div key={k} style={line(t, h, c, 1599, 1)} />
      ))}
      <div
        style={{
          position: "absolute",
          left: 0,
          top: 44,
          fontSize: 14,
          lineHeight: "18px",
          whiteSpace: "nowrap",
          display: "flex",
          alignItems: "baseline",
          gap: 10,
        }}
      >
        <span style={{ fontSize: 15, marginRight: -2 }}>{symbolTitle}</span>
        {legendItems.map(([k, v]) => (
          <span key={k}>
            {k}
            <span style={{ color: red }}>{v}</span>
          </span>
        ))}
        <span style={{ color: red }}>
          {signed(change.toFixed(6))} ({signed(pct.toFixed(2))}%)
        </span>
      </div>
      <div style={{ position: "absolute", left: 0, top: 723, fontSize: 15, lineHeight: "18px", color: TEXT }}>
        iew
      </div>
    </div>
  );
}
